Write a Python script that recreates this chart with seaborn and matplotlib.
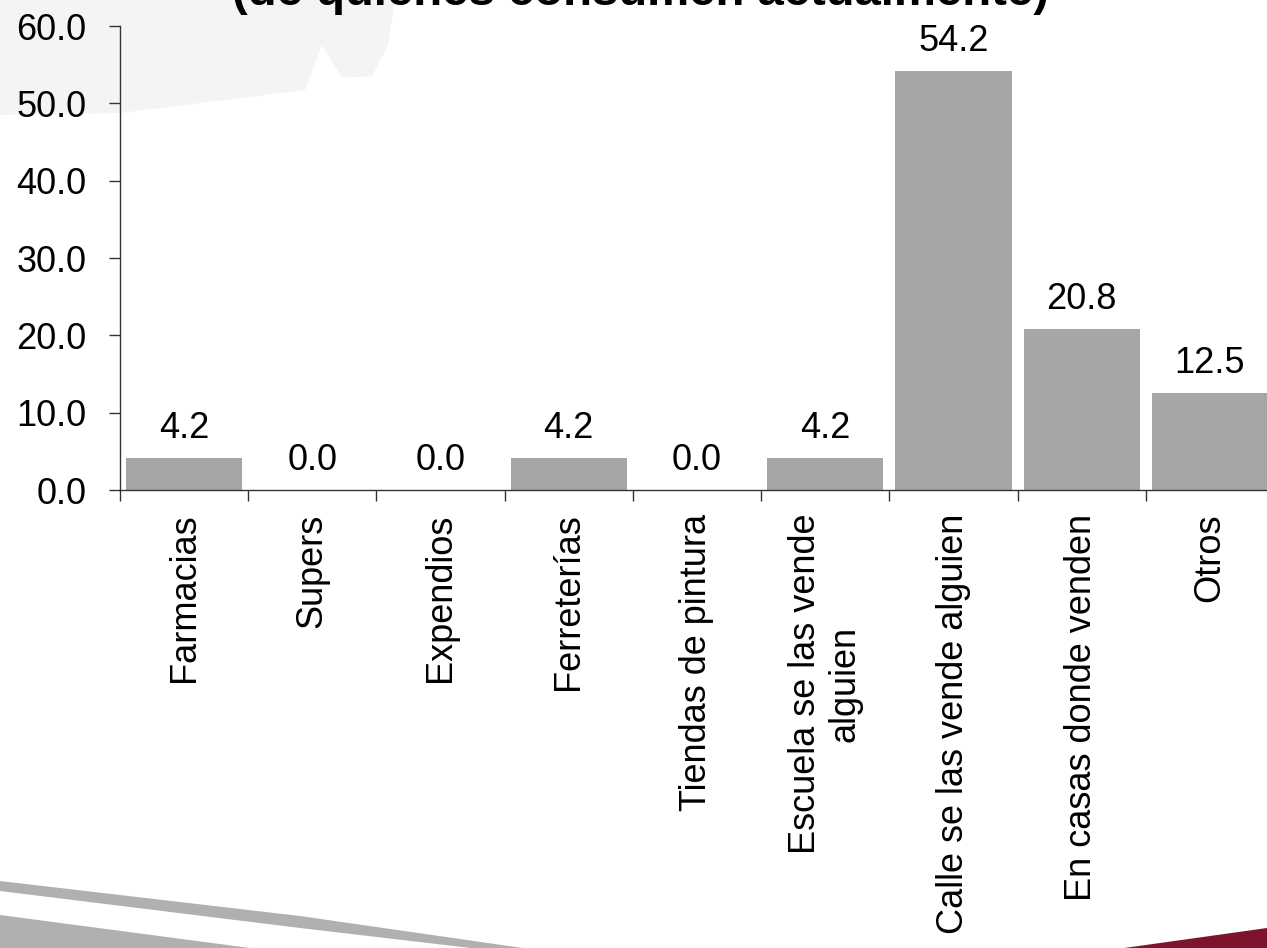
import matplotlib
matplotlib.use("Agg")
import matplotlib.pyplot as plt
import seaborn as sns
import pandas as pd
from matplotlib.patches import Polygon

categories = ["Farmacias", "Supers", "Expendios", "Ferreterías", "Tiendas de pintura",
              "Escuela se las vende\nalguien", "Calle se las vende alguien",
              "En casas donde venden", "Otros"]
values = [4.2, 0.0, 0.0, 4.2, 0.0, 4.2, 54.2, 20.8, 12.5]
yticks = [0, 10, 20, 30, 40, 50, 60]
title = "(de quienes consumen actualmente)"

sns.set_theme(style="white")
plt.rcParams['font.family'] = ['Liberation Sans', 'DejaVu Sans']
plt.rcParams['text.color'] = 'black'
plt.rcParams['xtick.color'] = 'black'
plt.rcParams['ytick.color'] = 'black'

W, H = 1267, 948
fig = plt.figure(figsize=(W / 100, H / 100), dpi=100)
fig.patch.set_facecolor("white")

# background decorations (faint watermark and swoosh) in a pixel-space axes behind everything
bg = fig.add_axes([0, 0, 1, 1], zorder=-5)
bg.set_xlim(0, W)
bg.set_ylim(H, 0)
bg.axis("off")
decor = [
    ([(0, 0), (395, 0), (388, 45), (372, 76), (342, 78), (322, 45), (305, 90), (120, 113), (0, 115)], "#f4f4f6"),
    ([(0, 881), (0, 891), (300, 928), (590, 962), (620, 962), (300, 916)], "#b0b0b0"),
    ([(0, 915), (0, 948), (250, 948)], "#b0b0b0"),
    ([(1110, 950), (1267, 950), (1267, 928)], "#7e142c"),
]
for pts, col in decor:
    bg.add_patch(Polygon(pts, closed=True, facecolor=col, edgecolor="none"))

ax = fig.add_axes([120 / W, 1 - 490 / H, 1154 / W, (490 - 26) / H], zorder=1)
ax.set_facecolor("none")

df = pd.DataFrame({"cat": categories, "val": values})
sns.barplot(data=df, x="cat", y="val", color="#a6a6a6", saturation=1,
            width=0.906, ax=ax, edgecolor="none")

ax.set_xlim(-0.5, len(categories) - 0.5)
ax.set_ylim(0, 60)
ax.set_yticks(yticks)
ax.set_yticklabels([f"{v:.1f}" for v in yticks], fontsize=26)
ax.set_xlabel("")
ax.set_ylabel("")

ax.set_xticks(range(len(categories)))
ax.set_xticklabels(categories, rotation=90, fontsize=26, ha="center", va="top",
                   multialignment="center")
ax.tick_params(axis="x", which="major", length=0, pad=17)
ax.set_xticks([i - 0.5 for i in range(len(categories) + 1)], minor=True)
ax.tick_params(axis="x", which="minor", length=8, width=1, color="#333333", direction="out", bottom=True)
ax.tick_params(axis="y", which="major", length=8, width=1, color="#333333", direction="out",
               left=True, pad=16)

for s in ["top", "right"]:
    ax.spines[s].set_visible(False)
for s in ["left", "bottom"]:
    ax.spines[s].set_color("#333333")
    ax.spines[s].set_linewidth(1)

for i, v in enumerate(values):
    ax.annotate(f"{v:.1f}", (i, v), xytext=(0, 20), textcoords="offset pixels",
                ha="center", va="baseline", fontsize=26, color="black")

fig.text(640 / W, 1 - 5 / H, title, ha="center", va="baseline",
         fontsize=34, fontweight="bold", color="black")

fig.savefig("out.png", dpi=100)
